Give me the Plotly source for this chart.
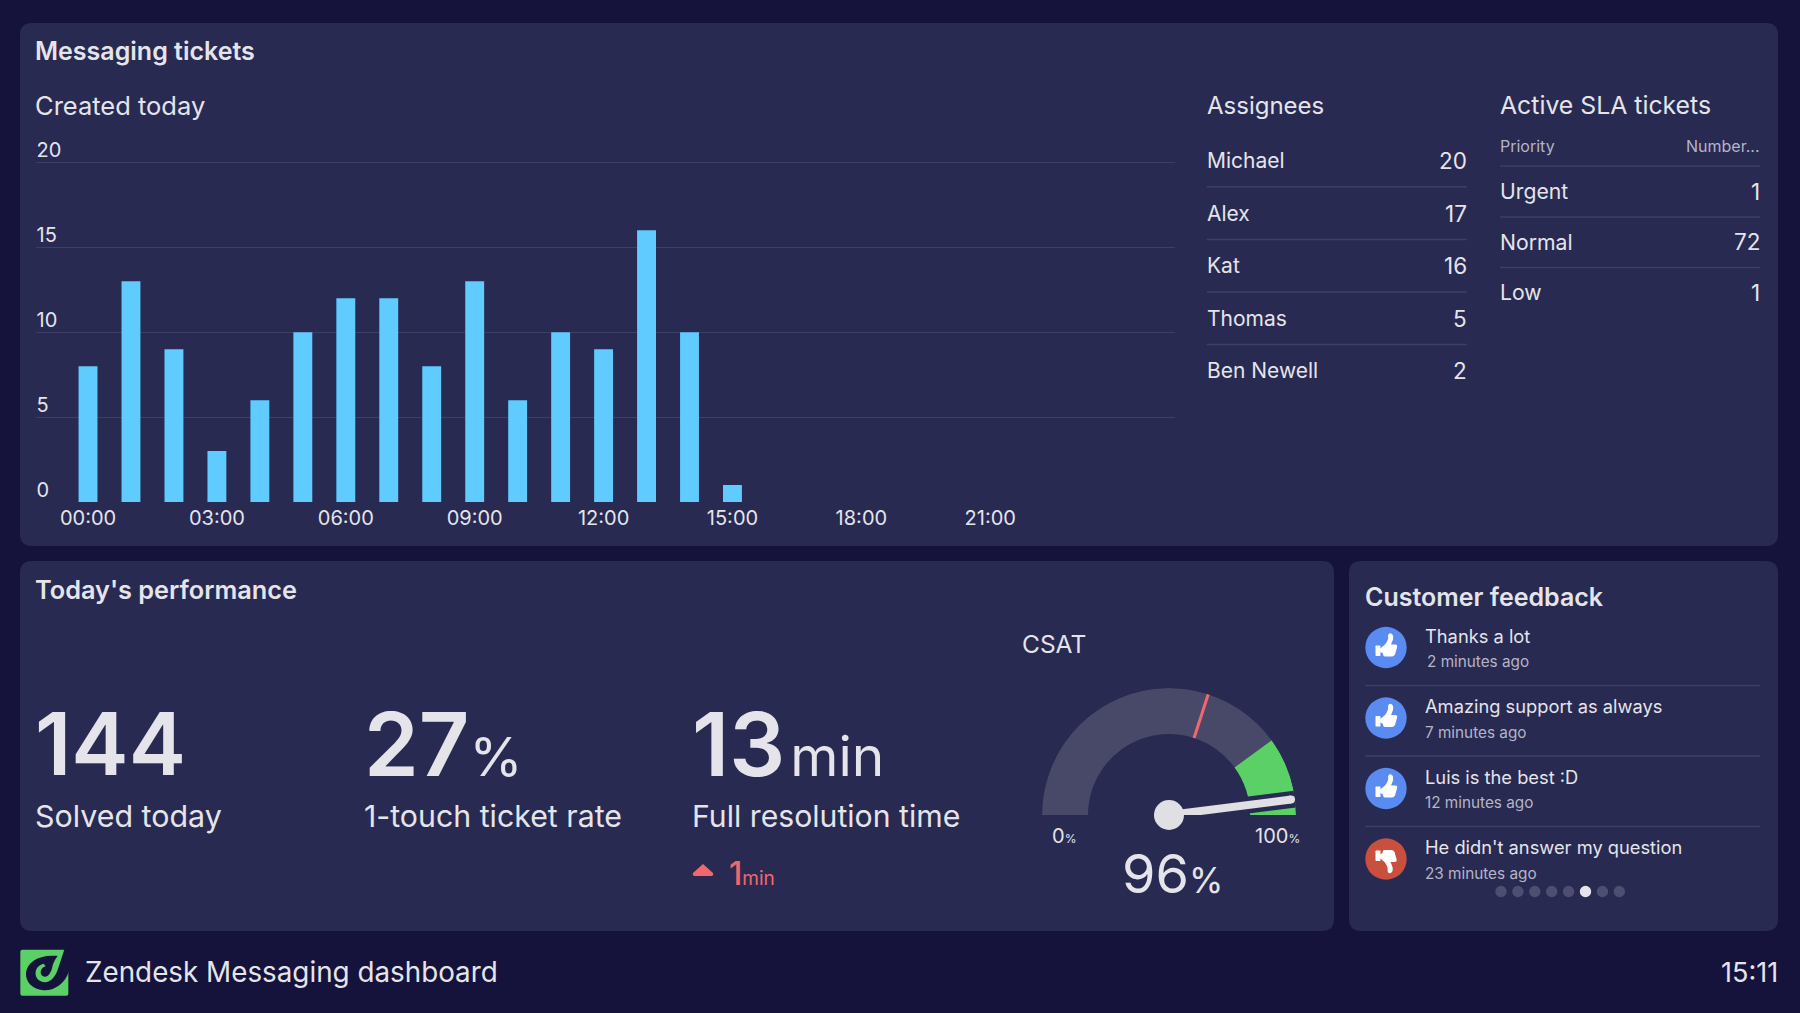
import plotly.graph_objects as go

W, H = 1800, 1013
BG = '#15123b'
PANEL = '#282a52'
LINE = '#3d3f66'
TEXT = '#e4e4ea'
DIM = '#b4b5c6'
FONT = 'Inter'

# Data
hours = list(range(16))
tickets_per_hour = [8, 13, 9, 3, 6, 10, 12, 12, 8, 13, 6, 10, 9, 16, 10, 1]
tick_hours = [0, 3, 6, 9, 12, 15, 18, 21]
tick_labels = ['00:00', '03:00', '06:00', '09:00', '12:00', '15:00', '18:00', '21:00']

assignee_names = ['Michael', 'Alex', 'Kat', 'Thomas', 'Ben Newell']
assignee_counts = [20, 17, 16, 5, 2]
sla_priorities = ['Urgent', 'Normal', 'Low']
sla_counts = [1, 72, 1]

solved_today = 144
one_touch_pct = 27
resolution_min = 13
resolution_delta = 1

gauge_edges = [0, 80, 100]
gauge_colors = ['#484868', '#5bd066']
csat_target = 60
csat_value = 96

feedback_text = ['Thanks a lot', 'Amazing support as always', 'Luis is the best :D', "He didn't answer my question"]
feedback_age = ['2 minutes ago', '7 minutes ago', '12 minutes ago', '23 minutes ago']
feedback_good = [True, True, True, False]


def fx(x):
    return x / W


def fy(y):
    return 1 - y / H


def path(cmds, ox=0, oy=0, k=1, flip=1):
    out = []
    for c in cmds:
        pts = c[1:]
        xy = []
        for i in range(0, len(pts), 2):
            xy.append(f'{fx(ox + pts[i] * k):.5f},{fy(oy + flip * pts[i + 1] * k):.5f}')
        out.append(c[0] + ' '.join(xy))
    return ' '.join(out)


def round_rect(x0, y0, x1, y1, r):
    return [('M', x0 + r, y0), ('L', x1 - r, y0), ('Q', x1, y0, x1, y0 + r), ('L', x1, y1 - r),
            ('Q', x1, y1, x1 - r, y1), ('L', x0 + r, y1), ('Q', x0, y1, x0, y1 - r),
            ('L', x0, y0 + r), ('Q', x0, y0, x0 + r, y0), ('Z',)]


shapes = []
annotations = []


def fill(cmds, color, **kw):
    shapes.append(dict(type='path', xref='paper', yref='paper', path=path(cmds, **kw),
                       fillcolor=color, line=dict(width=0), layer='below'))


def hline(x0, x1, y, width=1.5):
    shapes.append(dict(type='line', xref='paper', yref='paper', x0=fx(x0), x1=fx(x1), y0=fy(y), y1=fy(y),
                       line=dict(color=LINE, width=width), layer='below'))


def circle(cx, cy, r, color):
    shapes.append(dict(type='circle', xref='paper', yref='paper', x0=fx(cx - r), x1=fx(cx + r),
                       y0=fy(cy + r), y1=fy(cy - r), fillcolor=color, line=dict(width=0), layer='below'))


def label(x, y, text, size, color=TEXT, anchor='left', weight=400):
    annotations.append(dict(xref='paper', yref='paper', x=fx(x), y=fy(y), text=text, showarrow=False,
                            xanchor=anchor, yanchor='middle', borderpad=0, borderwidth=0,
                            font=dict(family=FONT, size=size, color=color, weight=weight)))


def big(n, unit, usize):
    return f"{n}<span style='font-size:{usize}px;font-weight:400'>{unit}</span>"


# Panels
fill(round_rect(20, 23, 1778, 546, 12), PANEL)
fill(round_rect(20, 561, 1334, 931, 12), PANEL)
fill(round_rect(1349, 561, 1778, 931, 12), PANEL)

# Top panel text
label(35, 51, 'Messaging tickets', 25, weight=600)
label(35, 105, 'Created today', 25.5)

label(1207, 105, 'Assignees', 24)
for i, name in enumerate(assignee_names):
    y = 160.5 + i * 52.6
    label(1207, y, name, 21)
    label(1467, y, str(assignee_counts[i]), 22.5, anchor='right')
    if i < len(assignee_names) - 1:
        hline(1207, 1467, y + 26.3)

label(1500, 105, 'Active SLA tickets', 24.8)
label(1500, 146, 'Priority', 16, DIM)
label(1760, 146, 'Number...', 16, DIM, anchor='right')
hline(1500, 1760, 166)
for i, name in enumerate(sla_priorities):
    y = 191 + i * 50.5
    label(1500, y, name, 21.2)
    label(1760, y, str(sla_counts[i]), 22.5, anchor='right')
    if i < len(sla_priorities) - 1:
        hline(1500, 1760, y + 26)

# Performance panel text
label(35, 589, "Today's performance", 25.3, weight=600)
label(35, 744, str(solved_today), 86, weight=600)
label(35, 816, 'Solved today', 30.4)
label(364, 744, big(one_touch_pct, '%', 54), 88, weight=600)
label(364, 816, '1-touch ticket rate', 30.3)
label(692, 744, big(resolution_min, '\u200amin', 55), 88, weight=600)
label(692, 816, 'Full resolution time', 30.2)

RED = '#f0686e'
fill([('M', 703, 864), ('L', 713, 873), ('Q', 714, 876, 711, 876), ('L', 695, 876), ('Q', 692, 876, 693, 873), ('Z',)], RED)
label(729, 873, big(resolution_delta, 'min', 19), 32, RED, weight=500)

label(1022, 644, 'CSAT', 24.5)
label(1052, 836, "0<span style='font-size:12px'>%</span>", 20)
label(1300, 836, "100<span style='font-size:12px'>%</span>", 20, anchor='right')
label(1172, 873, big(csat_value, '%', 35), 54, anchor='center')

# Customer feedback
label(1365, 597, 'Customer feedback', 25, weight=600)

THUMB = [('M', -8, 3), ('L', -1, -3), ('Q', 3, -8, 2, -12), ('Q', 3, -15, 5, -14), ('Q', 8, -13, 7, -8),
         ('L', 5, -3), ('L', 9, -3), ('Q', 12, -3, 11, 0), ('L', 9, 7), ('Q', 8, 9, 6, 9),
         ('L', -1, 9), ('Q', -3, 9, -3, 6), ('Z',)]
CUFF = round_rect(-10.5, -2, -5.5, 8.5, 0.7)
item_y = [647.5, 718, 788.5, 859]
for i, y in enumerate(item_y):
    good = feedback_good[i]
    circle(1386, y, 20.7, '#5a8bf0' if good else '#c9503f')
    fl = 1 if good else -1
    fill(THUMB, 'white', ox=1386 + (0 if good else -0.5), oy=y, flip=fl)
    fill(CUFF, 'white', ox=1386, oy=y, flip=fl)
    label(1425, y - 12, feedback_text[i], 18.3)
    label(1425 + (2 if i == 0 else 0), y + 14, feedback_age[i], 15.3, DIM)
    if i < 3:
        hline(1365, 1760, y + 38)

for i in range(8):
    circle(1501 + i * 16.9, 891.5, 5.7, '#e4e4ea' if i == 5 else '#4d4e72')

# Footer
GREEN = '#5bd066'
z = dict(ox=15, oy=945, k=1 / 3)
fill([('M', 22, 14), ('L', 148, 14), ('L', 160, 60), ('L', 160, 146), ('Q', 160, 152, 154, 152), ('L', 22, 152),
      ('Q', 16, 152, 16, 146), ('L', 16, 20), ('Q', 16, 14, 22, 14), ('Z',)], GREEN, **z)
fill([('M', 148, 12), ('L', 162, 12), ('L', 162, 78), ('C', 150, 118, 115, 138, 85, 136), ('C', 50, 132, 32, 110, 33, 85),
      ('C', 36, 52, 70, 26, 135, 34), ('Z',)], BG, **z)
fill([('M', 148, 14), ('L', 130, 68), ('C', 122, 100, 98, 120, 76, 108), ('C', 54, 96, 58, 62, 86, 56), ('L', 92, 64),
      ('C', 76, 68, 72, 88, 84, 94), ('C', 98, 100, 108, 84, 112, 66), ('C', 116, 46, 130, 26, 148, 14), ('Z',)], GREEN, **z)
label(85, 972, 'Zendesk Messaging dashboard', 27.8)
label(1778, 972, '15:11', 27, anchor='right')

# Bars
fig = go.Figure()
fig.add_trace(go.Bar(x=hours, y=tickets_per_hour, width=0.44, marker=dict(color='#5fcbff', line=dict(width=0)),
                     hoverinfo='skip'))

# CSAT gauge on a half polar plot
to_deg = lambda pct: 180 - pct * 1.8
R_OUT, R_IN = 127, 81
for a, b, color in zip(gauge_edges[:-1], gauge_edges[1:], gauge_colors):
    fig.add_trace(go.Barpolar(theta=[to_deg((a + b) / 2)], width=[(b - a) * 1.8], r=[R_OUT - R_IN], base=[R_IN],
                              marker=dict(color=color, line=dict(width=0)), hoverinfo='skip'))
fig.add_trace(go.Scatterpolar(r=[R_IN, R_OUT], theta=[to_deg(csat_target)] * 2, mode='lines',
                              line=dict(color=RED, width=3), hoverinfo='skip'))
fig.add_trace(go.Scatterpolar(r=[0, R_OUT + 2], theta=[to_deg(csat_value)] * 2, mode='lines',
                              line=dict(color=PANEL, width=17), hoverinfo='skip', cliponaxis=False))
fig.add_trace(go.Scatterpolar(r=[0, R_OUT - 4], theta=[to_deg(csat_value)] * 2, mode='lines+markers',
                              line=dict(color='#e0e0e4', width=8),
                              marker=dict(color='#e0e0e4', size=[30, 8], opacity=1, line=dict(width=0)),
                              hoverinfo='skip', cliponaxis=False))

fig.update_layout(
    width=W, height=H, autosize=False,
    margin=dict(l=0, r=0, t=0, b=0),
    paper_bgcolor=BG, plot_bgcolor='rgba(0,0,0,0)',
    showlegend=False, hovermode=False,
    font=dict(family=FONT, color=TEXT),
    shapes=shapes, annotations=annotations,
    xaxis=dict(domain=[fx(35.6), fx(1175)], range=[-1.22, 25.3], tickvals=tick_hours, ticktext=tick_labels,
               showgrid=True, gridcolor=PANEL, gridwidth=3, zeroline=False, showline=False, ticks='',
               tickfont=dict(size=20, color=TEXT, family=FONT), ticklabelstandoff=2),
    # range runs past 20 so the top tick label stays inside the plot area
    yaxis=dict(domain=[fy(502), fy(128.5)], range=[0, 22], tickvals=[0, 5, 10, 15, 20],
               anchor='free', position=fx(32.6), ticklabelshift=2,
               ticklabelposition='inside top', showgrid=True, gridcolor=LINE, gridwidth=1, zeroline=False,
               showline=False, ticks='', tickfont=dict(size=20, color=TEXT, family=FONT)),
    polar=dict(
        domain=dict(x=[fx(1169 - R_OUT), fx(1169 + R_OUT)], y=[fy(815), fy(815 - R_OUT)]),
        sector=[0, 180], bgcolor='rgba(0,0,0,0)',
        radialaxis=dict(visible=False, range=[0, R_OUT]),
        angularaxis=dict(visible=False, direction='counterclockwise', rotation=0),
        barmode='overlay',
    ),
)

fig.write_html("out.html", config=dict(displayModeBar=False),
               post_script="document.body.style.margin='0';document.body.style.background='%s';" % BG)
